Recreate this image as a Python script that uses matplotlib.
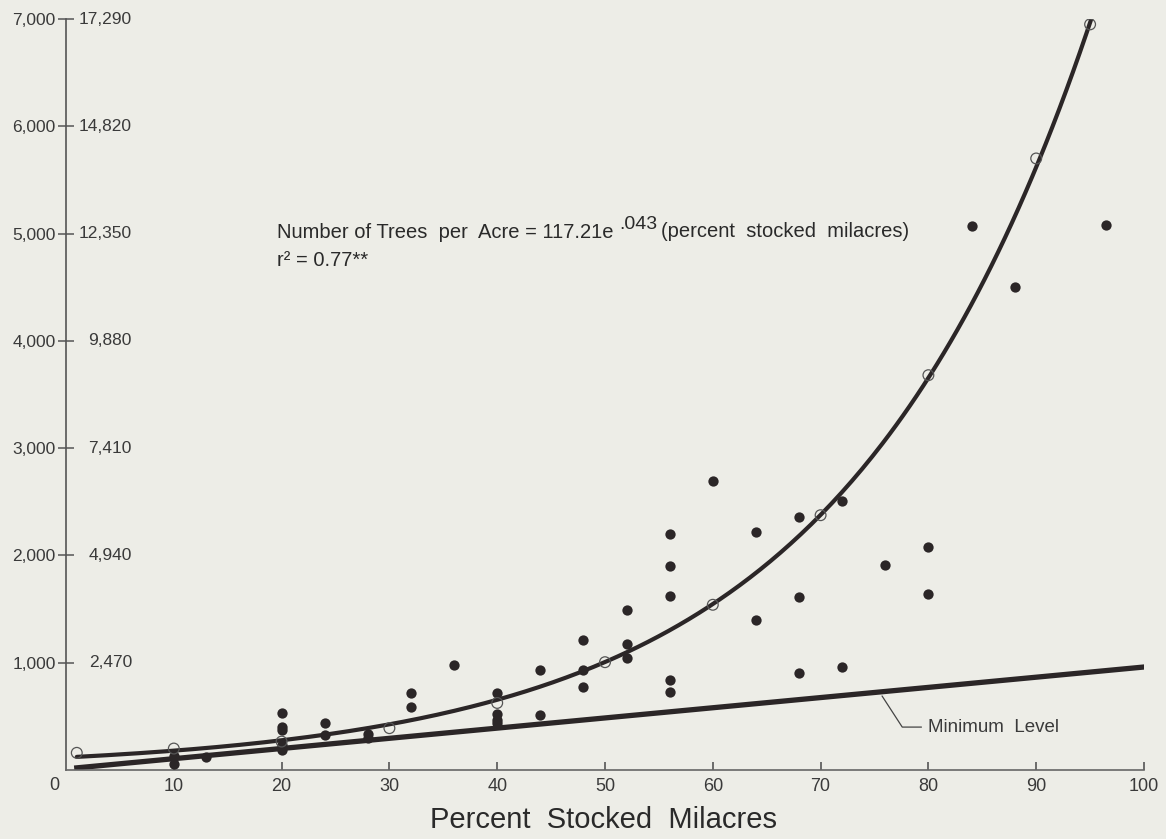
import numpy as np
import matplotlib.pyplot as plt

plt.rcParams['font.family'] = ['Liberation Sans', 'DejaVu Sans']

# observed plots (solid dots): percent stocked milacres vs number of trees per acre
stocked_pct = [10, 10, 13, 20, 20, 20, 20, 20, 24, 24, 28, 28, 32, 32, 36,
               40, 40, 40, 40, 44, 44, 48, 48, 48, 52, 52, 52,
               56, 56, 56, 56, 56, 60, 64, 64, 68, 68, 68, 72, 72,
               76, 80, 80, 84, 88, 96.5]
trees_per_acre = [60, 130, 120, 530, 400, 370, 230, 190, 440, 330, 340, 300, 720, 590, 980,
                  720, 520, 470, 440, 930, 510, 1210, 930, 770, 1490, 1170, 1040,
                  2200, 1900, 1620, 840, 730, 2690, 2220, 1400, 2360, 1610, 900, 2510, 960,
                  1910, 2080, 1640, 5070, 4500, 5080]

# open circles sitting on the fitted curve
curve_pts_x = [1, 10, 20, 30, 40, 50, 60, 70, 80, 90, 95]
curve_pts_y = [160, 200, 265, 390, 625, 1005, 1540, 2375, 3680, 5700, 6950]

# fitted model: trees = 117.21 * e^(.043 * pct)
fit_a = 117.21
fit_b = 0.043
fit_range = (1, 95.3)

# minimum stocking level line
min_x = [1, 100]
min_y = [20, 960]

y_ticks = [1000, 2000, 3000, 4000, 5000, 6000, 7000]
y_labels = ["1,000", "2,000", "3,000", "4,000", "5,000", "6,000", "7,000"]
y_labels_right = ["2,470", "4,940", "7,410", "9,880", "12,350", "14,820", "17,290"]
x_ticks = [10, 20, 30, 40, 50, 60, 70, 80, 90, 100]

bg = "#ededE7"
ink = "#2b2627"
txt = "#3a3a3a"

fig = plt.figure(figsize=(11.66, 8.39), dpi=100, facecolor=bg)
W, H = 1166, 839
ax = fig.add_axes([66 / W, (H - 770) / H, (1144 - 66) / W, (770 - 19) / H])
ax.set_facecolor(bg)
ax.set_xlim(0, 100)
ax.set_ylim(0, 7000)

for s in ["top", "right"]:
    ax.spines[s].set_visible(False)
ax.spines["left"].set_color("#555555")
ax.spines["bottom"].set_color("#666666")
ax.spines["left"].set_linewidth(1.2)
ax.spines["bottom"].set_linewidth(1.2)

ax.set_xticks(x_ticks)
ax.set_xticklabels([str(v) for v in x_ticks])
ax.tick_params(axis="x", direction="in", length=6, width=1.2, pad=6,
               labelsize=13, colors="#555555", labelcolor=txt)
ax.set_yticks(y_ticks)
ax.set_yticklabels(y_labels)
ax.tick_params(axis="y", direction="inout", length=11, width=1.1, pad=2,
               labelsize=12.5, colors="#555555", labelcolor=txt)

# hectare equivalents to the right of the axis
for v, lab in zip(y_ticks, y_labels_right):
    ax.annotate(lab, xy=(0, v), xycoords=("axes fraction", "data"),
                xytext=(47.5, 0), textcoords="offset points",
                ha="right", va="center", fontsize=12.5, color=txt)
ax.annotate("0", xy=(0, 0), xycoords="axes fraction", xytext=(-8.5, -11),
            textcoords="offset points", ha="center", va="center",
            fontsize=13, color=txt)

# fitted curve
xs = np.linspace(fit_range[0], fit_range[1], 300)
ax.plot(xs, fit_a * np.exp(fit_b * xs), color=ink, lw=3.0, zorder=2,
        solid_capstyle="round")
ax.plot(min_x, min_y, color=ink, lw=3.8, zorder=2)

ax.scatter(stocked_pct, trees_per_acre, s=55, color=ink, zorder=3, linewidths=0)
ax.scatter(curve_pts_x, curve_pts_y, s=60, facecolors="none", edgecolors="#555555",
           linewidths=0.9, zorder=4)

ax.annotate("Minimum  Level", xy=(75.7, 690), xytext=(80.0, 400),
            ha="left", va="center", fontsize=13.5, color=txt,
            arrowprops=dict(arrowstyle="-", color="#444444", lw=0.9,
                            shrinkA=3, shrinkB=0,
                            connectionstyle="angle,angleA=0,angleB=-57,rad=0"))

# regression equation
t1 = fig.text(277 / W, 1 - 233 / H, "Number of Trees  per  Acre = 117.21e",
              ha="left", va="center", fontsize=14.5, color="#2a2a2a")
t2 = ax.annotate(".043", xy=(1, 0.5), xycoords=t1, xytext=(4, 6),
                 textcoords="offset points", ha="left", va="center",
                 fontsize=14, color="#2a2a2a")
ax.annotate("(percent  stocked  milacres)", xy=(1, 0.5), xycoords=t2,
            xytext=(3, -5), textcoords="offset points", ha="left", va="center",
            fontsize=14.5, color="#2a2a2a")
fig.text(277 / W, 1 - 261 / H, "r² = 0.77**", ha="left", va="center",
         fontsize=14.5, color="#2a2a2a")

fig.text(603 / W, 1 - 820 / H, "Percent  Stocked  Milacres", ha="center",
         va="center", fontsize=21, color="#2a2a2a")

fig.savefig("out.png", dpi=100, facecolor=bg)
